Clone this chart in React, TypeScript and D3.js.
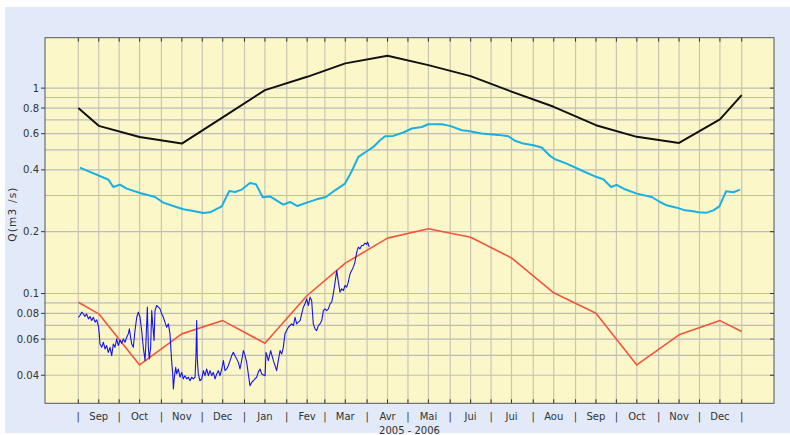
import React from "react";
import * as d3 from "d3";

// ---------- DATA ----------
const monthLabels = ["Sep", "Oct", "Nov", "Dec", "Jan", "Fev", "Mar", "Avr", "Mai", "Jui", "Jui", "Aou", "Sep", "Oct", "Nov", "Dec"];
const xTitle = "2005 - 2006";
const yTitle = "Q(m3 /s)";
const yTickLabels = [1, 0.8, 0.6, 0.4, 0.2, 0.1, 0.08, 0.06, 0.04];
const yGridValues = [1, 0.9, 0.8, 0.7, 0.6, 0.5, 0.4, 0.3, 0.2, 0.1, 0.09, 0.08, 0.07, 0.06, 0.05, 0.04];

// monthly statistics (mid-month), plus values at the first and last day shown
const blackStart = 0.8;
const blackMonthly = [0.655, 0.578, 0.537, 0.72, 0.978, 1.135, 1.32, 1.438, 1.294, 1.144, 0.962, 0.811, 0.66, 0.579, 0.541, 0.705];
const blackEnd = 0.924;

const redStart = 0.0907;
const redMonthly = [0.0796, 0.0449, 0.0636, 0.0738, 0.0572, 0.0978, 0.1406, 0.186, 0.2068, 0.188, 0.149, 0.1008, 0.0802, 0.0449, 0.0629, 0.0738];
const redEnd = 0.0653;

// smoothed daily statistic: day offset from 2005-09-01, discharge
const cyanDay = [1.2, 18.4, 22, 25.7, 30.6, 35.5, 45.3, 56.3, 62.4, 69.7, 77.1, 84.4, 91.8, 96.7, 105.3, 110.8, 115, 120, 126, 130.5, 135.4, 140.7, 150.5, 155.4, 160.8, 167.7, 175, 181.8, 188.4, 195.8, 200.7, 205.6, 212.9, 216.6, 221.5, 225.2, 231.2, 238.6, 244.8, 252.1, 256.9, 266.8, 272.9, 281.5, 286.3, 296.1, 308.3, 315.7, 320.6, 326.7, 334, 340.2, 346.3, 350, 358.5, 370.7, 380.6, 385.4, 391.1, 395.2, 401.3, 409.9, 420.9, 427, 431.9, 439.3, 445.4, 450.3, 455.2, 461.3, 466.2, 470.6, 475.5, 480.8, 485.8];
const cyanQ = [0.41, 0.367, 0.3585, 0.33, 0.339, 0.324, 0.3085, 0.295, 0.277, 0.2666, 0.257, 0.252, 0.2464, 0.2484, 0.2657, 0.3155, 0.312, 0.3206, 0.345, 0.34, 0.294, 0.297, 0.271, 0.279, 0.2666, 0.277, 0.2874, 0.295, 0.318, 0.343, 0.3937, 0.4624, 0.4984, 0.5172, 0.5576, 0.583, 0.5853, 0.608, 0.636, 0.647, 0.667, 0.667, 0.655, 0.624, 0.619, 0.601, 0.592, 0.583, 0.5545, 0.537, 0.527, 0.514, 0.4675, 0.4504, 0.4292, 0.3937, 0.369, 0.3598, 0.33, 0.338, 0.3217, 0.3064, 0.295, 0.279, 0.2687, 0.2618, 0.254, 0.252, 0.2484, 0.2475, 0.254, 0.2657, 0.3145, 0.311, 0.3206];

// observed daily discharge: day offset from 2005-09-01, discharge
const observedDay = [0, 1.2, 2.5, 3.7, 4.9, 6.1, 7.4, 8.6, 9.8, 11, 12.3, 13.5, 14.7, 15.4, 15.9, 17.2, 18.4, 19.6, 20.8, 22, 23.3, 24.5, 25.7, 26.9, 28.2, 29.4, 30.6, 31.8, 33.1, 34.3, 35.5, 36.7, 37.5, 38.4, 39.2, 40.4, 41.6, 42.9, 44.1, 45.3, 46.5, 47.7, 49, 49.7, 50.7, 51.4, 52.1, 53.1, 53.9, 54.6, 55.6, 56.3, 57.5, 58.8, 60, 61.2, 62.4, 63.6, 64.9, 66.1, 67.3, 68.5, 69.3, 69.8, 70.5, 71.5, 72.2, 73.4, 74.7, 75.9, 77.1, 78.3, 79.6, 80.8, 82, 83.2, 84.4, 85.7, 86.4, 86.9, 87.4, 88.1, 89.3, 90.6, 91.8, 93, 94.2, 95.5, 96.7, 97.9, 99.1, 100.4, 101.6, 102.8, 104, 105.3, 106.5, 107.7, 108.9, 110.1, 111.4, 112.6, 113.8, 115, 116.3, 117.5, 118.7, 119.9, 121.2, 122.4, 123.6, 124.8, 126, 127.3, 128.5, 129.7, 130.9, 132.1, 133.4, 134.6, 137.1, 137.8, 139.5, 141.2, 143.2, 145.6, 146.8, 148.1, 149.3, 150.5, 151.7, 152.9, 154.2, 156.6, 157.9, 159.1, 160.3, 161.5, 162.8, 164, 165.2, 166.4, 167.6, 168.9, 170.1, 171.3, 172.5, 173.8, 175, 176.2, 177.4, 178.7, 179.9, 181.1, 182.3, 183.6, 184.8, 186, 187.2, 188.5, 189.7, 190.9, 192.1, 193.3, 194.6, 195.8, 197, 198.2, 199.5, 200.7, 201.9, 203.1, 204.4, 205.6, 206.8, 208, 209.2, 210.5, 211.7, 212.4, 213.6];
const observedQ = [0.0766, 0.0781, 0.0811, 0.0796, 0.0772, 0.0796, 0.0752, 0.0772, 0.0738, 0.0766, 0.0725, 0.0744, 0.0698, 0.0636, 0.0568, 0.0547, 0.0579, 0.0537, 0.0558, 0.0517, 0.0547, 0.0498, 0.0568, 0.0547, 0.0601, 0.0558, 0.0594, 0.0572, 0.0601, 0.0579, 0.0612, 0.0636, 0.0673, 0.0612, 0.0568, 0.0547, 0.066, 0.0766, 0.0811, 0.0766, 0.066, 0.0547, 0.0471, 0.059, 0.0858, 0.0547, 0.048, 0.0547, 0.0826, 0.0711, 0.059, 0.0826, 0.0874, 0.0858, 0.0842, 0.0796, 0.0766, 0.0725, 0.0685, 0.0711, 0.0636, 0.0471, 0.0406, 0.0343, 0.0391, 0.0437, 0.0406, 0.0429, 0.0391, 0.0413, 0.0384, 0.0398, 0.0384, 0.0391, 0.0376, 0.0391, 0.0384, 0.0391, 0.0508, 0.0738, 0.0471, 0.0406, 0.0376, 0.0384, 0.0421, 0.0398, 0.0429, 0.0398, 0.0421, 0.0398, 0.0413, 0.0384, 0.0406, 0.0421, 0.0398, 0.0429, 0.0471, 0.0421, 0.0429, 0.0445, 0.0471, 0.0498, 0.0517, 0.0498, 0.048, 0.0462, 0.0429, 0.0471, 0.0527, 0.0498, 0.0462, 0.0406, 0.0356, 0.0369, 0.0376, 0.0384, 0.0391, 0.0413, 0.0429, 0.0406, 0.0398, 0.0517, 0.0471, 0.0527, 0.0471, 0.0421, 0.0471, 0.0527, 0.0508, 0.0547, 0.0636, 0.066, 0.0685, 0.0711, 0.0698, 0.0766, 0.0711, 0.0725, 0.0738, 0.0796, 0.0858, 0.0891, 0.0942, 0.0874, 0.096, 0.0924, 0.0711, 0.0673, 0.066, 0.0698, 0.0711, 0.0738, 0.0826, 0.0842, 0.0826, 0.0842, 0.0891, 0.0907, 0.0996, 0.1136, 0.1295, 0.1136, 0.1015, 0.1054, 0.1034, 0.1094, 0.1074, 0.1136, 0.1248, 0.1295, 0.1344, 0.1422, 0.1591, 0.1683, 0.1651, 0.1714, 0.1714, 0.176, 0.1734, 0.178, 0.1683];

// ---------- HELPERS ----------
const DAY = 86400000;
const start = Date.UTC(2005, 8, 1);
const dayDate = (d: number) => new Date(start + d * DAY);
const monthStart = (i: number) => new Date(Date.UTC(2005, 8 + i, 1));
const monthMid = (i: number) => new Date(Date.UTC(2005, 8 + i, 16));

const W = 790;
const H = 435;
const L = 45, R = 774, T = 37.7, B = 403.3;

const x = d3.scaleUtc()
  .domain([new Date(start - 24.45 * DAY), new Date(Date.UTC(2007, 0, 1) + 23.7 * DAY)])
  .range([L, R]);
const y = d3.scaleLog().domain([0.0292, 1.76]).range([B, T]);

type P = [Date, number];
const monthlySeries = (s: number, m: number[], e: number): P[] => [
  [monthStart(0), s],
  ...m.map((v, i) => [monthMid(i), v] as P),
  [monthStart(m.length), e],
];

const line = d3.line<P>().x((d) => x(d[0])).y((d) => y(d[1]));

const blackPts = monthlySeries(blackStart, blackMonthly, blackEnd);
const redPts = monthlySeries(redStart, redMonthly, redEnd);
const cyanPts: P[] = cyanDay.map((d, i) => [dayDate(d), cyanQ[i]]);
const obsPts: P[] = observedDay.map((d, i) => [dayDate(d), observedQ[i]]);

const fmt = (v: number) => String(v);

export default function App() {
  const vGrid: Date[] = [];
  for (let i = 0; i <= monthLabels.length; i++) {
    vGrid.push(monthStart(i));
    if (i < monthLabels.length) vGrid.push(monthMid(i));
  }
  const font = "'DejaVu Sans', Verdana, sans-serif";
  return (
    <svg width={W} height={H} style={{ position: "absolute", left: 0, top: 0 }} fontFamily={font}>
      <rect x={0} y={0} width={W} height={H} fill="#ffffff" />
      <rect x={5} y={7} width={785} height={426} fill="#e2eaf9" />
      <defs>
        <clipPath id="plotclip">
          <rect x={L} y={T} width={R - L} height={B - T} />
        </clipPath>
      </defs>
      <rect x={L} y={T} width={R - L} height={B - T} fill="#fcf7c8" />
      {/* grid */}
      {yGridValues.map((v) => (
        <line key={"h" + v} x1={L} x2={R} y1={y(v)} y2={y(v)} stroke="#bcbcbc" strokeWidth={1.2} />
      ))}
      {vGrid.map((d, i) => (
        <line key={"v" + i} x1={x(d)} x2={x(d)} y1={T} y2={B} stroke="#c9c6b6" strokeWidth={1.2} />
      ))}
      {/* ticks on frame */}
      {vGrid.map((d, i) => (
        <g key={"t" + i} stroke="#333">
          <line x1={x(d)} x2={x(d)} y1={T} y2={T + 4} />
          <line x1={x(d)} x2={x(d)} y1={B} y2={B - 4} />
        </g>
      ))}
      {yTickLabels.map((v) => (
        <g key={"yt" + v} stroke="#333">
          <line x1={L - 4} x2={L} y1={y(v)} y2={y(v)} />
          <line x1={R - 4} x2={R} y1={y(v)} y2={y(v)} />
        </g>
      ))}
      {/* series */}
      <g clipPath="url(#plotclip)" fill="none" strokeLinejoin="round">
        <path d={line(blackPts) || ""} stroke="#111111" strokeWidth={2} />
        <path d={line(cyanPts) || ""} stroke="#1ab0e2" strokeWidth={2} />
        <path d={line(redPts) || ""} stroke="#f2553a" strokeWidth={1.6} />
        <path d={line(obsPts) || ""} stroke="#1414f0" strokeWidth={1.1} />
      </g>
      <rect x={L} y={T} width={R - L} height={B - T} fill="none" stroke="#555" strokeWidth={1} />
      {/* y labels */}
      {yTickLabels.map((v) => (
        <text key={"yl" + v} x={39} y={y(v)} dy="0.36em" textAnchor="end" fontSize={10} fill="#333">
          {fmt(v)}
        </text>
      ))}
      {/* x labels */}
      {monthLabels.map((m, i) => (
        <text key={"m" + i} x={x(monthMid(i))} y={420} textAnchor="middle" fontSize={10} fill="#333">
          {m}
        </text>
      ))}
      {vGrid.filter((_, i) => i % 2 === 0).map((d, i) => (
        <text key={"bar" + i} x={x(d)} y={420} textAnchor="middle" fontSize={10} fill="#333">
          |
        </text>
      ))}
      <text x={(L + R) / 2} y={434} textAnchor="middle" fontSize={10} fill="#333">
        {xTitle}
      </text>
      <text transform="translate(16,214) rotate(-90)" textAnchor="middle" fontSize={10.5} letterSpacing={1.2} fill="#333">
        {yTitle}
      </text>
    </svg>
  );
}
